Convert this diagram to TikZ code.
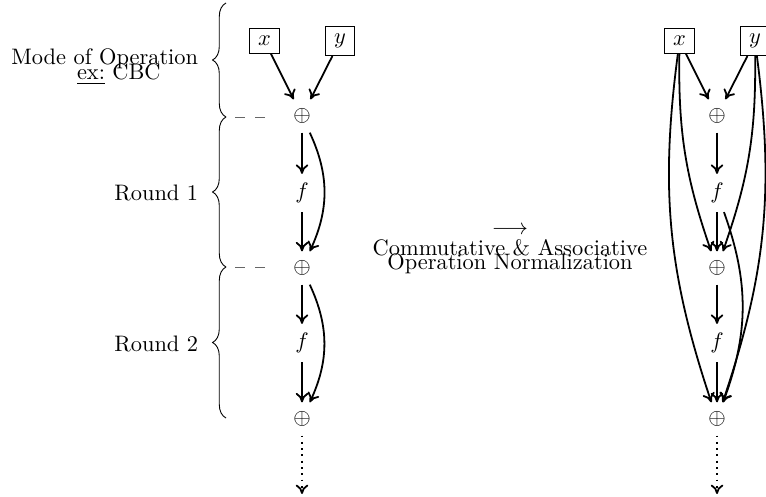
\documentclass[tikz,border=0pt]{standalone}
\usetikzlibrary{decorations.pathreplacing, arrows.meta}
\begin{document}
\begin{tikzpicture}[x=0.4465pt, y=-0.4465pt,
  var/.style={draw, inner xsep=3.9pt, inner ysep=3.4pt},
  op/.style={inner sep=3.9pt},
  tip/.tip={To[length=4.2pt, width=5.6pt]},
  flow/.style={-tip, thick},
  more/.style={-tip, thick, dotted},
  span/.style={decorate, decoration={brace, amplitude=6pt}},
  sep/.style={dash pattern=on 4.5pt off 4.5pt, black!60},
  lbl/.style={anchor=east, align=center, inner sep=3.33pt}
]
\useasboundingbox (0,0) rectangle (766,497);
\clip (0,0) rectangle (766,497);

% ---- original chain (CBC mode, two rounds) ----
\node[var] (x) at (264.5,41) {$x$};
\node[var] (y) at (340,41) {$y$};
\node[op] (p1) at (302,116) {$\oplus$};
\node[op] (f1) at (302,193) {$f$};
\node[op] (p2) at (302,268) {$\oplus$};
\node[op] (f2) at (302,343) {$f$};
\node[op] (p3) at (302,419) {$\oplus$};
\coordinate (e) at (302,494);

\draw[flow] (x) -- (p1);
\draw[flow] (y) -- (p1);
\draw[flow] (p1) -- (f1);
\draw[flow] (f1) -- (p2);
\draw[flow] (p1) to[bend left=25] (p2);
\draw[flow] (p2) -- (f2);
\draw[flow] (f2) -- (p3);
\draw[flow] (p2) to[bend left=25] (p3);
\draw[more] (p3) -- (e);

% ---- braces marking the stages ----
\coordinate (b0) at (226,3);
\coordinate (b1) at (226,117);
\coordinate (b2) at (226,267);
\coordinate (b3) at (226,418);
\coordinate (d1) at (265,117);
\coordinate (d2) at (265,267);
\draw[span] (b1) -- (b0);
\draw[span] (b2) -- (b1);
\draw[span] (b3) -- (b2);
\draw[sep] (d1) -- (b1);
\draw[sep] (d2) -- (b2);

\node[lbl] (mode) at (206,66.5) {Mode of Operation\\[-5pt]\hspace*{12.6pt}\underline{ex:} CBC};
\node[lbl] (r1) at (206,192.5) {Round 1};
\node[lbl] (r2) at (206,343.5) {Round 2};

% ---- transformation label ----
\node[align=center, inner sep=0pt] (norm) at (510,250)
  {$\longrightarrow$\\[-2.5pt]Commutative \& Associative\\[-6pt]Operation Normalization};

% ---- normalized chain ----
\node[var] (nx) at (679.5,41) {$x$};
\node[var] (ny) at (755,41) {$y$};
\node[op] (np1) at (717,116) {$\oplus$};
\node[op] (nf1) at (717,193) {$f$};
\node[op] (np2) at (717,268) {$\oplus$};
\node[op] (nf2) at (717,343) {$f$};
\node[op] (np3) at (717,419) {$\oplus$};
\coordinate (ne) at (717,494);

\draw[flow] (nx) -- (np1);
\draw[flow] (ny) -- (np1);
\draw[flow] (np1) -- (nf1);
\draw[flow] (nf1) -- (np2);
\draw[flow] (nx) to[bend right=10] (np2);
\draw[flow] (ny) to[bend left=10] (np2);
\draw[flow] (np2) -- (nf2);
\draw[flow] (nf2) -- (np3);
\draw[flow] (nx) to[bend right=13] (np3);
\draw[flow] (ny) to[bend left=13] (np3);
\draw[flow] (nf1) to[bend left=20] (np3);
\draw[more] (np3) -- (ne);
\end{tikzpicture}
\end{document}
